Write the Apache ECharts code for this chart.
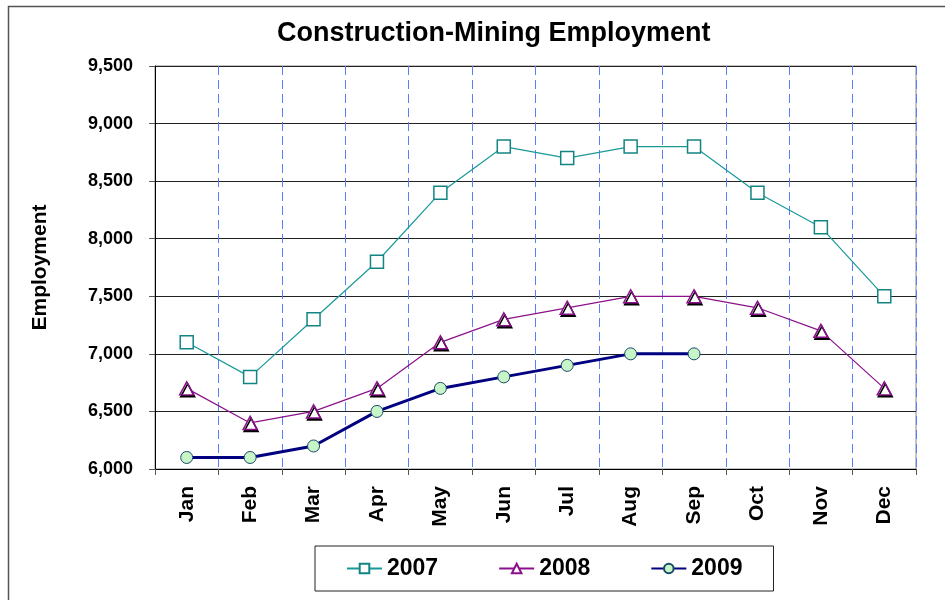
<!DOCTYPE html>
<html>
<head>
<meta charset="utf-8">
<script src="https://cdn.jsdelivr.net/npm/echarts@6/dist/echarts.min.js"></script>
<style>html,body{margin:0;padding:0;background:#fff;}#c{width:945px;height:600px;}</style>
</head>
<body>
<div id="c"></div>
<script>
var months = ['Jan','Feb','Mar','Apr','May','Jun','Jul','Aug','Sep','Oct','Nov','Dec'];
var s2007 = [7100, 6800, 7300, 7800, 8400, 8800, 8700, 8800, 8800, 8400, 8100, 7500];
var s2008 = [6700, 6400, 6500, 6700, 7100, 7300, 7400, 7500, 7500, 7400, 7200, 6700];
var s2009 = [6100, 6100, 6200, 6500, 6700, 6800, 6900, 7000, 7000];
var yMin = 6000, yMax = 9500, yStep = 500;

var font = 'Liberation Sans, Arial, sans-serif';
var chart = echarts.init(document.getElementById('c'), null, {renderer: 'canvas'});
chart.setOption({
  animation: false,
  backgroundColor: '#fff',
  title: {
    text: 'Construction-Mining Employment',
    left: 272, top: 15,
    textStyle: {fontFamily: font, fontSize: 27, fontWeight: 'bold', color: '#000'}
  },
  graphic: [{
    type: 'rect', left: 6, top: 4, z: -1,
    shape: {width: 960, height: 620},
    style: {fill: 'none', stroke: '#555', lineWidth: 1.5}
  }],
  legend: {
    top: 546, left: 315,
    padding: [11, 31, 11, 31],
    itemGap: 60,
    itemWidth: 35, itemHeight: 12,
    borderColor: '#222', borderWidth: 1,
    textStyle: {fontFamily: font, fontSize: 23, fontWeight: 'bold', color: '#000'},
    data: ['2007', '2008', '2009']
  },
  grid: {left: 155, right: 29, top: 66, bottom: 131, show: true, borderColor: '#888', borderWidth: 1},
  xAxis: {
    type: 'category', data: months, boundaryGap: true,
    axisLine: {lineStyle: {color: '#000', width: 1}},
    axisTick: {show: true, length: 6, lineStyle: {color: '#555'}},
    axisLabel: {rotate: 90, fontFamily: font, fontSize: 21, fontWeight: 'bold', color: '#000', margin: 17},
    splitLine: {show: true, lineStyle: {color: '#5a7dff', type: [9, 5], width: 1}}
  },
  yAxis: {
    type: 'value', min: yMin, max: yMax, interval: yStep,
    name: 'Employment', nameLocation: 'middle', nameGap: 104, nameRotate: 90,
    nameTextStyle: {fontFamily: font, fontSize: 21, fontWeight: 'bold', color: '#000'},
    axisLine: {show: true, lineStyle: {color: '#000'}},
    axisTick: {show: true, length: 6, lineStyle: {color: '#555'}},
    axisLabel: {
      fontFamily: font, fontSize: 18, fontWeight: 'bold', color: '#000', margin: 22,
      formatter: function (v) { return v.toLocaleString('en-US'); }
    },
    splitLine: {show: true, lineStyle: {color: '#222', width: 1}}
  },
  series: [
    {
      name: '2007', type: 'line', data: s2007,
      symbol: 'rect', symbolSize: 13,
      lineStyle: {color: '#199a98', width: 1.2},
      itemStyle: {color: '#fff', borderColor: '#128583', borderWidth: 1.5},
      z: 3
    },
    {
      name: '2008', type: 'line', data: s2008,
      symbol: 'triangle', symbolSize: [14, 13],
      lineStyle: {color: '#8b118b', width: 1.2},
      itemStyle: {color: '#fff', borderColor: '#8b118b', borderWidth: 1.5, shadowColor: '#000', shadowOffsetX: 1, shadowOffsetY: 2},
      z: 3
    },
    {
      name: '2009', type: 'line', data: s2009,
      symbol: 'circle', symbolSize: 12,
      lineStyle: {color: '#000080', width: 3},
      itemStyle: {color: '#c8f5c8', borderColor: '#1a4a6a', borderWidth: 1},
      z: 4
    }
  ]
});
</script>
</body>
</html>
